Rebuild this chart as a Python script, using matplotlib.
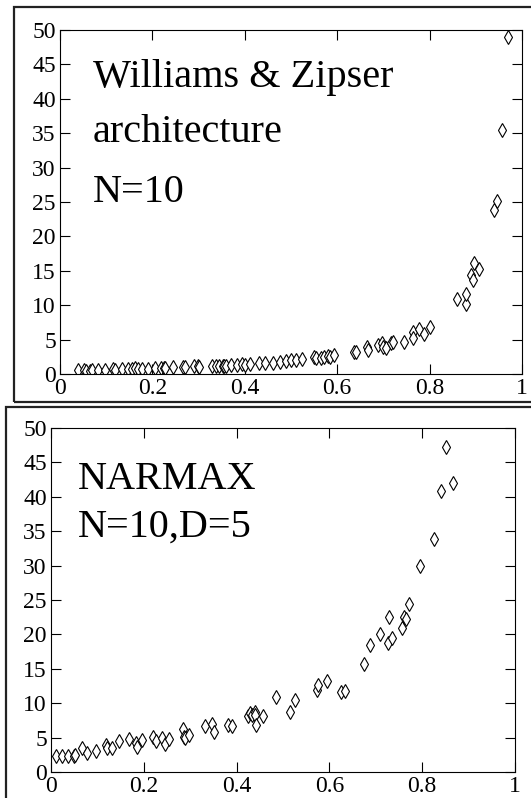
import matplotlib
matplotlib.use("Agg")
from matplotlib import pyplot as plt
from matplotlib.patches import Rectangle

plt.rcParams['font.family'] = ['Liberation Serif', 'DejaVu Serif']

# Williams & Zipser 网络, N=10
wz_x = [0.039, 0.053, 0.057, 0.064, 0.069, 0.082, 0.098, 0.115, 0.118, 0.135,
        0.148, 0.155, 0.162, 0.168, 0.177, 0.190, 0.206, 0.219, 0.225, 0.228,
        0.245, 0.267, 0.270, 0.289, 0.298, 0.300, 0.330, 0.338, 0.345, 0.352,
        0.356, 0.360, 0.370, 0.384, 0.395, 0.400, 0.412, 0.431, 0.444, 0.462,
        0.477, 0.490, 0.499, 0.511, 0.524, 0.550, 0.554, 0.565, 0.572, 0.580,
        0.585, 0.594, 0.636, 0.641, 0.665, 0.667, 0.689, 0.696, 0.700, 0.706,
        0.717, 0.720, 0.745, 0.763, 0.765, 0.778, 0.788, 0.800, 0.859, 0.878,
        0.879, 0.890, 0.894, 0.897, 0.907, 0.940, 0.945, 0.957, 0.969]
wz_y = [0.63, 0.53, 0.48, 0.48, 0.53, 0.58, 0.63, 0.68, 0.63, 0.73,
        0.73, 0.77, 0.82, 0.77, 0.77, 0.77, 0.87, 0.87, 0.92, 0.87,
        0.97, 1.02, 1.02, 1.16, 1.10, 1.02, 1.10, 1.20, 1.20, 1.20,
        1.10, 1.20, 1.35, 1.35, 1.45, 1.35, 1.45, 1.60, 1.65, 1.65,
        1.70, 1.84, 2.03, 2.03, 2.13, 2.52, 2.32, 2.32, 2.52, 2.57,
        2.52, 2.80, 3.20, 3.15, 3.87, 3.53, 4.16, 4.50, 3.90, 3.78,
        4.45, 4.65, 4.60, 6.05, 5.20, 6.50, 5.86, 6.90, 10.9, 10.2,
        11.6, 14.4, 13.7, 16.2, 15.2, 23.8, 25.2, 35.5, 49.0]

# NARMAX 模型, N=10, D=5
nm_x = [0.011, 0.023, 0.036, 0.050, 0.052, 0.067, 0.077, 0.097, 0.119, 0.120,
        0.131, 0.147, 0.168, 0.184, 0.185, 0.197, 0.220, 0.226, 0.239, 0.246,
        0.255, 0.284, 0.286, 0.288, 0.297, 0.332, 0.348, 0.352, 0.381, 0.391,
        0.424, 0.429, 0.434, 0.439, 0.440, 0.441, 0.457, 0.485, 0.515, 0.525,
        0.574, 0.576, 0.594, 0.625, 0.634, 0.674, 0.687, 0.709, 0.727, 0.729,
        0.735, 0.757, 0.760, 0.765, 0.771, 0.796, 0.826, 0.840, 0.851, 0.866]
nm_y = [2.29, 2.34, 2.34, 2.34, 2.44, 3.56, 2.83, 3.12, 3.90, 3.51,
        3.56, 4.49, 4.78, 4.15, 3.61, 4.59, 5.07, 4.49, 4.88, 4.05,
        4.78, 6.20, 5.07, 4.88, 5.37, 6.73, 6.93, 5.85, 6.83, 6.68,
        8.20, 8.54, 8.29, 8.78, 8.29, 6.83, 8.20, 10.9, 8.68, 10.4,
        11.95, 12.6, 13.2, 11.6, 11.8, 15.7, 18.5, 20.0, 18.7, 22.5,
        19.5, 20.9, 22.6, 22.2, 24.4, 29.9, 33.9, 40.8, 47.2, 42.0]

x_ticks = [0, 0.2, 0.4, 0.6, 0.8, 1]
x_labels = ['0', '0.2', '0.4', '0.6', '0.8', '1']
y_ticks = [0, 5, 10, 15, 20, 25, 30, 35, 40, 45, 50]

fig = plt.figure(figsize=(5.31, 7.98), dpi=100)

# 两个外框
fig.patches.append(Rectangle((14 / 531, 1 - 402 / 798), 1.0, 395 / 798,
                             transform=fig.transFigure, fill=False,
                             edgecolor='#222222', lw=1.6))
fig.patches.append(Rectangle((6 / 531, -0.05), 1.0, 1 - 407 / 798 + 0.05,
                             transform=fig.transFigure, fill=False,
                             edgecolor='#222222', lw=1.6))

ax1 = fig.add_axes([60 / 531, 1 - 374 / 798, 462 / 531, 344 / 798])
ax2 = fig.add_axes([51 / 531, 1 - 772 / 798, 464 / 531, 344 / 798])


def draw(ax, xs, ys, lines, x0, ys_txt):
    ax.plot(xs, ys, linestyle='none', marker='d', markersize=7,
            markerfacecolor='white', markeredgecolor='black',
            markeredgewidth=0.8)
    ax.set_xlim(0, 1)
    ax.set_ylim(0, 50)
    ax.set_xticks(x_ticks)
    ax.set_xticklabels(x_labels)
    ax.set_yticks(y_ticks)
    ax.tick_params(direction='in', length=7, width=0.8, top=True,
                   right=True, labelsize=17, pad=3)
    for s in ax.spines.values():
        s.set_linewidth(0.8)
    for t, yy in zip(lines, ys_txt):
        ax.text(x0, yy, t, transform=ax.transAxes, fontsize=29,
                va='baseline', ha='left')


draw(ax1, wz_x, wz_y, ['Williams & Zipser', 'architecture', 'N=10'],
     0.071, [0.835, 0.675, 0.5])
draw(ax2, nm_x, nm_y, ['NARMAX', 'N=10,D=5'], 0.058, [0.823, 0.683])

fig.savefig('out.png', dpi=100)
